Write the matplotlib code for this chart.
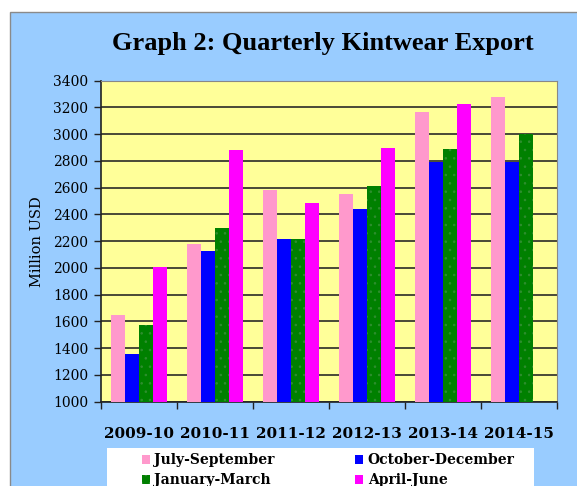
import numpy as np
import matplotlib
matplotlib.use("Agg")
import matplotlib.pyplot as plt
from matplotlib.patches import Rectangle

years = ["2009-10", "2010-11", "2011-12", "2012-13", "2013-14", "2014-15"]
jul_sep = [1650, 2180, 2580, 2550, 3165, 3280]
oct_dec = [1355, 2130, 2215, 2440, 2790, 2790]
jan_mar = [1570, 2300, 2215, 2610, 2890, 3005]
apr_jun = [2005, 2880, 2485, 2895, 3225, np.nan]
series_names = ["July-September", "October-December", "January-March", "April-June"]
colors = ["#FF99CC", "#0000FF", "#008000", "#FF00FF"]
yticks = list(range(1000, 3401, 200))

plt.rcParams["hatch.linewidth"] = 0.6

W, H = 577, 486
fig = plt.figure(figsize=(W / 100, H / 100), dpi=100)
fig.patch.set_facecolor("white")

fig.patches.append(Rectangle((10 / W, -0.01), 1.0, 1 - 12 / H + 0.01, transform=fig.transFigure,
                             facecolor="#99CCFF", edgecolor="#8a8a8a", linewidth=1.0, zorder=-2))
fig.patches.append(Rectangle((107 / W, -0.01), (534 - 107) / W, 1 - 447.7 / H + 0.01,
                             transform=fig.transFigure, facecolor="white", edgecolor="none",
                             zorder=-1))

serif = "Liberation Serif"
wide = "DejaVu Serif"
ax = fig.add_axes([101 / W, 1 - 401.7 / H, (557 - 101) / W, (401.7 - 80.7) / H])
ax.set_zorder(2)
ax.set_facecolor("#FFFF99")

x = np.arange(len(years))
w = 0.185
data = [jul_sep, oct_dec, jan_mar, apr_jun]
handles = []
for k, (vals, c, name) in enumerate(zip(data, colors, series_names)):
    off = (k - 1.5) * w
    if k == 2:
        b = ax.bar(x + off, np.array(vals) - 1000, w, bottom=1000, color=c, edgecolor="#2f8f2f",
                   linewidth=0, hatch="..", label=name, zorder=3)
    else:
        b = ax.bar(x + off, np.array(vals) - 1000, w, bottom=1000, color=c, linewidth=0,
                   label=name, zorder=3)
    handles.append(b)

ax.set_ylim(1000, 3400)
ax.set_xlim(-0.5, 5.5)
ax.set_yticks(yticks)
ax.set_yticklabels([str(t) for t in yticks], fontfamily=wide, fontsize=10)
ax.yaxis.grid(True, color="#3a3a30", linewidth=1.3, zorder=1)
ax.set_axisbelow(True)
ax.set_xticks(x)
ax.set_xticklabels(years, fontfamily=wide, fontsize=11, fontweight="bold")
ax.set_xticks(np.arange(-0.5, 6.0, 1.0), minor=True)
ax.tick_params(axis="x", which="major", length=0, pad=18)
ax.tick_params(axis="x", which="minor", length=5, width=1, color="#222222", direction="out")
ax.tick_params(axis="y", length=5, width=1, color="#222222", direction="out", pad=4)
for s in ["top", "right"]:
    ax.spines[s].set_color("#888888")
ax.spines["left"].set_color("#222222")
ax.spines["bottom"].set_color("#222222")
ax.spines["left"].set_linewidth(1.2)
ax.spines["bottom"].set_linewidth(1.2)

ax.set_ylabel("Million USD", fontfamily=wide, fontsize=10.5, labelpad=7)

fig.text(323 / W, 1 - 50 / H, "Graph 2: Quarterly Kintwear Export", fontfamily=serif,
         fontsize=19, fontweight="bold", ha="center", va="baseline")

order = [0, 2, 1, 3]
leg = fig.legend([handles[i] for i in order], [series_names[i] for i in order], ncol=2,
                 loc="upper left", bbox_to_anchor=(132 / W, 1 - 443.5 / H), frameon=False,
                 prop={"family": wide, "size": 10, "weight": "bold"},
                 handlelength=0.6, handleheight=0.6, handletextpad=0.3, columnspacing=5.8,
                 labelspacing=0.45, borderpad=0.2)
leg.set_zorder(5)

fig.savefig("out.png", dpi=100)
